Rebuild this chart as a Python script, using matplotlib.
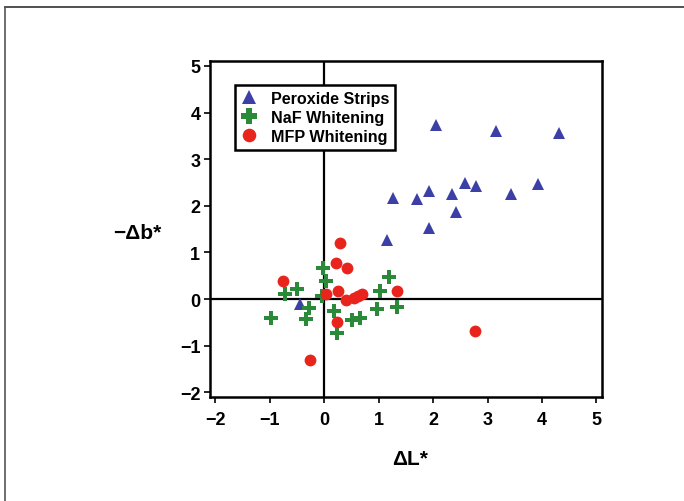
import matplotlib.pyplot as plt
from matplotlib.lines import Line2D

plt.rcParams['font.family'] = ['Liberation Sans', 'DejaVu Sans']
plt.rcParams['font.weight'] = 'bold'

# Peroxide Strips (dL*, -db*)
perox_x = [2.06, 3.16, 4.31, 2.59, 2.78, 3.93, 1.92, 2.35, 3.43, 1.26, 1.70, 2.42, 1.93, 1.16, -0.44]
perox_y = [3.73, 3.60, 3.57, 2.50, 2.43, 2.46, 2.32, 2.25, 2.26, 2.16, 2.14, 1.86, 1.53, 1.27, -0.11]

# NaF Whitening
naf_x = [-0.02, 0.04, -0.51, -0.72, -0.04, 1.19, 1.02, -0.29, 0.18, 0.97, 1.34, -0.98, -0.33, 0.51, 0.66, 0.23]
naf_y = [0.66, 0.38, 0.21, 0.11, 0.07, 0.48, 0.18, -0.19, -0.25, -0.21, -0.16, -0.41, -0.43, -0.44, -0.41, -0.73]

# MFP Whitening
mfp_x = [0.29, 0.21, 0.42, -0.75, 0.04, 0.26, 0.40, 0.55, 0.62, 0.69, 1.34, 0.23, -0.27, 2.76]
mfp_y = [1.20, 0.77, 0.66, 0.39, 0.12, 0.18, -0.01, 0.02, 0.07, 0.12, 0.17, -0.48, -1.30, -0.69]

ticks = [-2, -1, 0, 1, 2, 3, 4, 5]

fig = plt.figure(figsize=(6.84, 5.02), dpi=100)
ax = fig.add_axes([0.307, 0.207, 0.573, 0.669])

ax.axhline(0, color='black', lw=1.6, zorder=1)
ax.axvline(0, color='black', lw=1.6, zorder=1)

ax.plot(perox_x, perox_y, linestyle='none', marker='^', ms=9, color='#3b3fa6',
        markeredgewidth=0, label='Peroxide Strips', zorder=3)
ax.plot(naf_x, naf_y, linestyle='none', marker='P', ms=10.5, color='#2a8a3a',
        markeredgewidth=0, label='NaF Whitening', zorder=3)
ax.plot(mfp_x, mfp_y, linestyle='none', marker='o', ms=8.5, color='#e8241c',
        markeredgewidth=0, label='MFP Whitening', zorder=4)

ax.set_xlim(-2.1, 5.1)
ax.set_ylim(-2.1, 5.1)
ax.set_xticks(ticks)
ax.set_yticks(ticks)
ax.tick_params(direction='out', length=4, width=1.2, labelsize=13, pad=3)
ax.tick_params(axis='x', pad=6)
for s in ax.spines.values():
    s.set_linewidth(1.8)

ax.set_xlabel('ΔL*', fontsize=15, fontweight='bold')
ax.xaxis.set_label_coords(0.51, -0.155)
ax.set_ylabel('−Δb*', fontsize=15, fontweight='bold', rotation=0, ha='center', va='center')
ax.yaxis.set_label_coords(-0.185, 0.49)

leg = ax.legend(loc='upper left', bbox_to_anchor=(0.043, 0.952), fancybox=False,
                framealpha=1, edgecolor='black', fontsize=11.6, handlelength=1.0,
                handletextpad=0.9, borderpad=0.35, labelspacing=0.25, markerscale=1.15)
leg.get_frame().set_linewidth(1.8)
for t in leg.get_texts():
    t.set_fontweight('bold')

# outer frame (top and left edges)
fig.add_artist(Line2D([0.007, 1.0], [0.984, 0.984], transform=fig.transFigure, color='#333333', lw=1.2))
fig.add_artist(Line2D([0.007, 0.007], [0.0, 0.984], transform=fig.transFigure, color='#555555', lw=1.2))

fig.savefig('out.png', dpi=100)
